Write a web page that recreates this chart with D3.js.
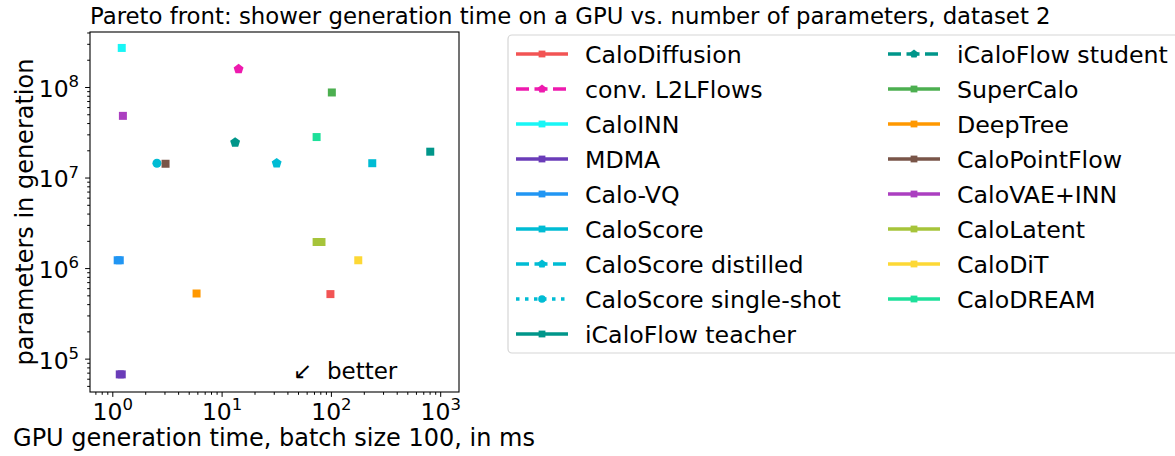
<!DOCTYPE html>
<html>
<head>
<meta charset="utf-8">
<script src="https://cdn.jsdelivr.net/npm/d3@7"></script>
<style>
	body { margin: 0; background: white; }
	svg { font-family: "DejaVu Sans", sans-serif; }
</style>
</head>
<body>
<svg id="pareto-plot" width="1175" height="456" viewBox="0 0 1175 456"></svg>
<script>

// model names, in legend order
const models = ["CaloDiffusion", "conv. L2LFlows", "CaloINN", "MDMA", "Calo-VQ", "CaloScore",
	"CaloScore distilled", "CaloScore single-shot", "iCaloFlow teacher", "iCaloFlow student",
	"SuperCalo", "DeepTree", "CaloPointFlow", "CaloVAE+INN", "CaloLatent", "CaloDiT", "CaloDREAM"];

const colors = ["#f25454", "#ee1aae", "#18f6f6", "#6a3cb8", "#2196f3", "#00bcd4",
	"#00bcd4", "#00bcd4", "#00968a", "#00968a",
	"#4caf50", "#ff9800", "#795548", "#ab3fc0", "#a6c43a", "#fdd835", "#1de09a"];

const markers = ["s", "p", "s", "s", "s", "s", "p", "o", "s", "p", "s", "s", "s", "s", "s", "s", "s"];
const dashes = ["-", "--", "-", "-", "-", "-", "--", ":", "-", "--", "-", "-", "-", "-", "-", "-", "-"];

// generation time (ms, batch 100) and number of parameters
const gen_time_ms = [[99], [14.3], [1.22], [1.17, 1.22], [1.12, 1.17], [239], [31.9], [2.56], [811], [13.3],
	[102], [5.9], [3.07], [1.25], [74, 78, 82], [178], [74]];
const n_params = [[5.16e5], [1.58e8], [2.7e8], [6.7e4, 6.7e4], [1.22e6, 1.22e6], [1.44e7], [1.44e7], [1.44e7], [1.93e7], [2.44e7],
	[8.7e7], [5.24e5], [1.42e7], [4.8e7], [1.94e6, 1.94e6, 1.94e6], [1.22e6], [2.8e7]];

const x_major = [1, 10, 100, 1000];
const y_major = [1e5, 1e6, 1e7, 1e8];

const svg = d3.select("#pareto-plot");

const plot_left = 90, plot_right = 459, plot_top = 32, plot_bottom = 392;

const x = d3.scaleLog().domain([0.625, 1486]).range([plot_left, plot_right]);
const y = d3.scaleLog().domain([4.28e4, 4.05e8]).range([plot_bottom, plot_top]);

function minorTicks(scale) {
	const [lo, hi] = scale.domain();
	const out = [];
	for (let e = Math.floor(Math.log10(lo)); e <= Math.ceil(Math.log10(hi)); e++)
		for (let m = 2; m <= 9; m++) {
			const v = m * Math.pow(10, e);
			if (v >= lo && v <= hi) out.push(v);
		}
	return out;
}

function pentagon(r) {
	const pts = d3.range(5).map(i => {
		const a = -Math.PI / 2 + i * 2 * Math.PI / 5;
		return [r * Math.cos(a), r * Math.sin(a)];
	});
	return "M" + pts.map(p => p.join(",")).join("L") + "Z";
}

function markerPath(kind, scale) {
	if (kind === "p") return pentagon(5.2 * scale);
	if (kind === "o") return d3.symbol(d3.symbolCircle, Math.PI * Math.pow(4.5 * scale, 2))();
	return d3.symbol(d3.symbolSquare, Math.pow(8 * scale, 2))();
}

function dashArray(style) {
	if (style === "--") return "13,5.5";
	if (style === ":") return "3.5,5.5";
	return null;
}

// minor ticks
svg.append("g")
	.attr("transform", "translate(0," + plot_bottom + ")")
	.call(d3.axisBottom(x).tickValues(minorTicks(x)).tickSize(2.8).tickFormat(""))
	.call(g => g.select(".domain").remove());
svg.append("g")
	.attr("transform", "translate(" + plot_left + ",0)")
	.call(d3.axisLeft(y).tickValues(minorTicks(y)).tickSize(2.8).tickFormat(""))
	.call(g => g.select(".domain").remove());

// major ticks + 10^n labels
function powerLabel(sel) {
	sel.selectAll(".tick text").each(function (d) {
		const t = d3.select(this).text(null)
			.attr("font-size", 23.5).attr("fill", "black")
			.attr("font-family", "DejaVu Sans");
		t.append("tspan").text("10");
		t.append("tspan").attr("font-size", 16.5).attr("dy", -9.5).text(Math.round(Math.log10(d)));
	});
}

svg.append("g")
	.attr("transform", "translate(0," + plot_bottom + ")")
	.call(d3.axisBottom(x).tickValues(x_major).tickSize(4.9).tickPadding(6))
	.call(g => g.select(".domain").remove())
	.call(g => powerLabel(g));

svg.append("g")
	.attr("transform", "translate(" + plot_left + ",0)")
	.call(d3.axisLeft(y).tickValues(y_major).tickSize(4.9).tickPadding(6))
	.call(g => g.select(".domain").remove())
	.call(g => powerLabel(g))
	.call(g => g.selectAll(".tick text").attr("dy", "0.4em"));

svg.selectAll(".tick line").attr("stroke", "black").attr("stroke-width", 1);

// axes frame
svg.append("rect")
	.attr("x", plot_left).attr("y", plot_top)
	.attr("width", plot_right - plot_left).attr("height", plot_bottom - plot_top)
	.attr("fill", "none").attr("stroke", "black").attr("stroke-width", 1.1);

// data
const line = d3.line().x(d => x(d[0])).y(d => y(d[1]));
models.forEach((name, i) => {
	const pts = gen_time_ms[i].map((t, j) => [t, n_params[i][j]]);
	if (pts.length > 1)
		svg.append("path")
			.attr("d", line(pts))
			.attr("fill", "none")
			.attr("stroke", colors[i])
			.attr("stroke-width", 3.5)
			.attr("stroke-dasharray", dashArray(dashes[i]));
	svg.append("g").selectAll("path")
		.data(pts)
		.enter()
		.append("path")
			.attr("d", markerPath(markers[i], 1))
			.attr("transform", d => "translate(" + x(d[0]) + "," + y(d[1]) + ")")
			.attr("fill", colors[i]);
});

// better arrow
svg.append("text")
	.attr("x", 293).attr("y", 379)
	.attr("font-size", 23)
	.attr("xml:space", "preserve")
	.text("\u2199  better");

// titles
svg.append("text")
	.attr("x", 90).attr("y", 24)
	.attr("font-size", 22.8)
	.text("Pareto front: shower generation time on a GPU vs. number of parameters, dataset 2");

svg.append("text")
	.attr("x", 274).attr("y", 446)
	.attr("text-anchor", "middle")
	.attr("font-size", 24)
	.text("GPU generation time, batch size 100, in ms");

svg.append("text")
	.attr("transform", "translate(33," + ((plot_top + plot_bottom) / 2) + ") rotate(-90)")
	.attr("text-anchor", "middle")
	.attr("font-size", 24)
	.text("parameters in generation");

// legend
const legend = svg.append("g");
legend.append("rect")
	.attr("x", 508).attr("y", 35)
	.attr("width", 700).attr("height", 318)
	.attr("rx", 4)
	.attr("fill", "white")
	.attr("stroke", "#d6d6d6").attr("stroke-width", 1.2);

models.forEach((name, i) => {
	const col = i < 9 ? 0 : 1;
	const row = i < 9 ? i : i - 9;
	const x0 = col === 0 ? 516 : 888;
	const cy = 54 + row * 35;
	const item = legend.append("g");
	item.append("line")
		.attr("x1", x0).attr("x2", x0 + 52)
		.attr("y1", cy).attr("y2", cy)
		.attr("stroke", colors[i])
		.attr("stroke-width", 3.5)
		.attr("stroke-dasharray", dashArray(dashes[i]));
	item.append("path")
		.attr("d", markerPath(markers[i], 0.85))
		.attr("transform", "translate(" + (x0 + 26) + "," + cy + ")")
		.attr("fill", colors[i]);
	item.append("text")
		.attr("x", x0 + 69).attr("y", cy + 8.5)
		.attr("font-size", 23.7)
		.text(name);
});

</script>
</body>
</html>
